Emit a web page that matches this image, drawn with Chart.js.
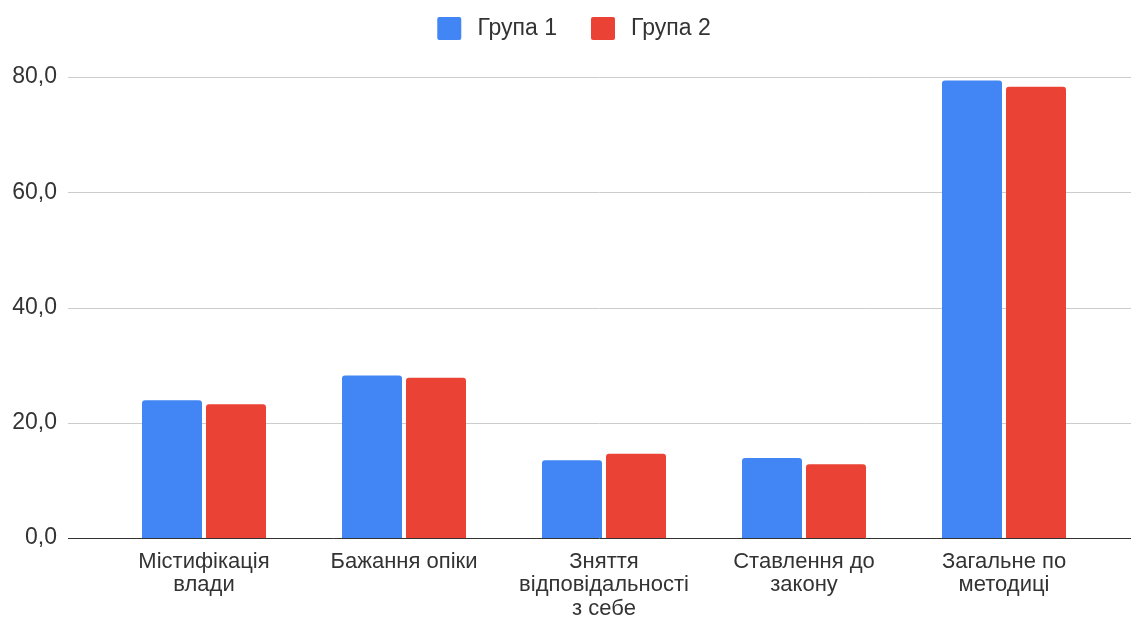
<!DOCTYPE html>
<html>
<head>
<meta charset="utf-8">
<script src="https://cdn.jsdelivr.net/npm/chart.js@4/dist/chart.umd.min.js"></script>
<style>
html,body{margin:0;padding:0;background:#fff;}
#wrap{width:1131px;height:617px;position:relative;}
</style>
</head>
<body>
<div id="wrap"><canvas id="c" width="1131" height="617"></canvas></div>
<script>
const categories = [
  ['Містифікація', 'влади'],
  ['Бажання опіки'],
  ['Зняття', 'відповідальності', 'з себе'],
  ['Ставлення до', 'закону'],
  ['Загальне по', 'методиці']
];
const seriesNames = ['Група 1', 'Група 2'];
const group1 = [23.9, 28.2, 13.5, 13.9, 79.4];
const group2 = [23.2, 27.8, 14.6, 12.8, 78.3];
const yTicks = [0, 20, 40, 60, 80];

const FONT = "'Liberation Sans', Arial, sans-serif";

const gridPlugin = {
  id: 'extGrid',
  beforeLayout(chart) {
    const lg = chart.legend;
    if (lg && !lg._patched) {
      const orig = lg.fit;
      lg.fit = function () { orig.call(this); this.height = 94; };
      lg._patched = true;
    }
  },
  afterLayout(chart) {
    const lg = chart.legend;
    if (lg) { lg.left += 22; lg.right += 22; }
  },
  beforeDatasetsDraw(chart) {
    const ctx = chart.ctx, s = chart.scales.y;
    ctx.save();
    ctx.lineWidth = 1;
    s.ticks.forEach(t => {
      if (t.value === 0) return;
      const y = Math.round(s.getPixelForValue(t.value)) + 0.5;
      ctx.strokeStyle = '#cccccc';
      ctx.beginPath(); ctx.moveTo(68, y); ctx.lineTo(1131, y); ctx.stroke();
    });
    ctx.restore();
  },
  afterDatasetsDraw(chart) {
    const ctx = chart.ctx, s = chart.scales.y;
    const y = Math.round(s.getPixelForValue(0)) + 0.5;
    ctx.save();
    ctx.strokeStyle = '#333333';
    ctx.lineWidth = 1;
    ctx.beginPath(); ctx.moveTo(68, y); ctx.lineTo(1131, y); ctx.stroke();
    ctx.restore();
  }
};

new Chart(document.getElementById('c'), {
  type: 'bar',
  data: {
    labels: categories,
    datasets: [
      { label: seriesNames[0], data: group1, backgroundColor: '#4285F4', borderRadius: {topLeft: 3, topRight: 3}, borderSkipped: 'bottom',
        categoryPercentage: 0.64, barPercentage: 0.9375 },
      { label: seriesNames[1], data: group2, backgroundColor: '#EA4335', borderRadius: {topLeft: 3, topRight: 3}, borderSkipped: 'bottom',
        categoryPercentage: 0.64, barPercentage: 0.9375 }
    ]
  },
  options: {
    responsive: false,
    animation: false,
    layout: { padding: { left: 0, right: 27, top: -17, bottom: 0 } },
    plugins: {
      legend: {
        position: 'top',
        labels: {
          font: { family: FONT, size: 23 },
          color: '#333',
          boxWidth: 24, boxHeight: 23,
          useBorderRadius: true, borderRadius: 2,
          padding: 34,
          generateLabels(chart) {
            const items = Chart.defaults.plugins.legend.labels.generateLabels(chart);
            items.forEach(it => { it.text = '\u2009' + it.text; });
            return items;
          }
        }
      },
      tooltip: { enabled: false }
    },
    scales: {
      x: {
        grid: { display: false },
        border: { display: false },
        ticks: {
          font: { family: FONT, size: 22, lineHeight: 1.07 },
          color: '#333',
          padding: 4,
          maxRotation: 0, autoSkip: false
        },
        afterFit(s) { s.height = 79; }
      },
      y: {
        min: 0, max: 80,
        afterBuildTicks(s) { s.ticks = yTicks.map(v => ({ value: v })); },
        grid: { display: false, drawTicks: false },
        border: { display: false },
        ticks: {
          font: { family: FONT, size: 23 },
          color: '#333',
          padding: 47,
          callback: v => v.toFixed(1).replace('.', ',')
        },
        afterFit(s) { s.width = 104; }
      }
    }
  },
  plugins: [gridPlugin]
});
</script>
</body>
</html>
